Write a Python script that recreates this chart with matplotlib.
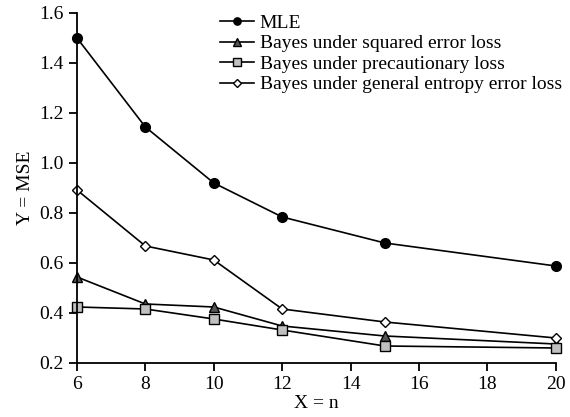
import matplotlib
matplotlib.use('Agg')
import matplotlib.pyplot as plt

plt.rcParams['font.family'] = ['Liberation Serif', 'DejaVu Serif']

n = [6, 8, 10, 12, 15, 20]
mle = [1.50, 1.144, 0.92, 0.784, 0.68, 0.588]
bayes_sq = [0.544, 0.436, 0.424, 0.348, 0.308, 0.276]
bayes_prec = [0.424, 0.416, 0.376, 0.332, 0.268, 0.26]
bayes_ent = [0.892, 0.668, 0.612, 0.416, 0.364, 0.30]

fig = plt.figure(figsize=(5.7, 4.17), dpi=100)
ax = fig.add_axes([0.135, 0.1295, 0.84, 0.8395])

ax.plot(n, mle, color='black', lw=1.2, marker='o', ms=7, mfc='black', mec='black',
        clip_on=False, label='MLE')
ax.plot(n, bayes_sq, color='black', lw=1.2, marker='^', ms=7, mfc='#555555', mec='black',
        clip_on=False, label='Bayes under squared error loss')
ax.plot(n, bayes_prec, color='black', lw=1.2, marker='s', ms=7, mfc='#c0c0c0', mec='black',
        clip_on=False, label='Bayes under precautionary loss')
ax.plot(n, bayes_ent, color='black', lw=1.2, marker='D', ms=5.5, mfc='white', mec='black',
        clip_on=False, label='Bayes under general entropy error loss')

ax.set_xlim(6, 20)
ax.set_ylim(0.2, 1.6)
ax.set_xticks([6, 8, 10, 12, 14, 16, 18, 20])
ax.set_yticks([0.2, 0.4, 0.6, 0.8, 1.0, 1.2, 1.4, 1.6])
ax.set_yticklabels(['0.2', '0.4', '0.6', '0.8', '1.0', '1.2', '1.4', '1.6'])
ax.spines['top'].set_visible(False)
ax.spines['right'].set_visible(False)
ax.spines['left'].set_linewidth(1.3)
ax.spines['bottom'].set_linewidth(1.3)
ax.tick_params(direction='out', length=6, width=1.3, labelsize=14)
ax.set_xlabel('X = n', fontsize=14, labelpad=1)
ax.set_ylabel('Y = MSE', fontsize=14, labelpad=4)

ax.legend(loc='upper left', bbox_to_anchor=(0.27, 1.035), frameon=False, fontsize=14,
          handlelength=1.75, handletextpad=0.3, labelspacing=0.15, borderpad=0.2,
          markerscale=0.75)

fig.savefig('out.png', dpi=100)
